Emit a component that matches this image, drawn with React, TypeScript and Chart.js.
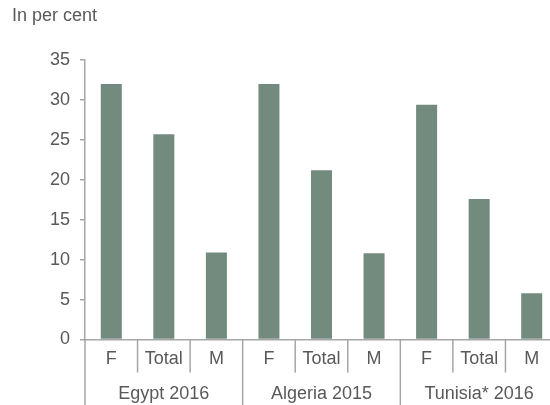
import React, { useEffect, useRef } from "react";
import { Chart, registerables } from "chart.js";

Chart.register(...registerables);

// Unemployment shares by sex, per country survey
const groups = ["Egypt 2016", "Algeria 2015", "Tunisia* 2016"];
const subLabels = ["F", "Total", "M"];
const femaleValues = [32.0, 32.0, 29.4];
const totalValues = [25.7, 21.2, 17.6];
const maleValues = [10.9, 10.8, 5.8];
const yTicks = [0, 5, 10, 15, 20, 25, 30, 35];

const FONT = '"Liberation Sans", Arial, Helvetica, sans-serif';
const FONT_SIZE = 18;
const TEXT = "#595959";
const AXIS = "#a6a6a6";
const BAR = "#738b7f";

const labels: string[] = [];
const values: number[] = [];
groups.forEach((_, g) => {
  const row = [femaleValues[g], totalValues[g], maleValues[g]];
  subLabels.forEach((s, k) => {
    labels.push(s);
    values.push(row[k]);
  });
});

// Draws the category separators, the country labels and the unit caption
const groupAxisPlugin = {
  id: "groupAxis",
  afterDraw(chart: any) {
    const ctx = chart.ctx;
    const xs = chart.scales.x;
    const area = chart.chartArea;
    const n = labels.length;
    ctx.save();
    ctx.strokeStyle = AXIS;
    ctx.lineWidth = 1.5;
    for (let i = 0; i <= n; i++) {
      let bx: number;
      if (i === 0) bx = xs.left;
      else if (i === n) bx = xs.right;
      else bx = (xs.getPixelForValue(i - 1) + xs.getPixelForValue(i)) / 2;
      const isGroup = i % subLabels.length === 0;
      ctx.beginPath();
      ctx.moveTo(bx, area.bottom);
      ctx.lineTo(bx, isGroup ? chart.height : area.bottom + 33);
      ctx.stroke();
    }
    ctx.fillStyle = TEXT;
    ctx.font = `${FONT_SIZE}px ${FONT}`;
    ctx.textAlign = "center";
    ctx.textBaseline = "middle";
    groups.forEach((g, gi) => {
      const cx = xs.getPixelForValue(gi * subLabels.length + 1);
      ctx.fillText(g, cx, area.bottom + 55);
    });
    ctx.textAlign = "left";
    ctx.textBaseline = "alphabetic";
    ctx.fillText("In per cent", 12, 21);
    ctx.restore();
  },
};

export default function App() {
  const ref = useRef<HTMLCanvasElement | null>(null);

  useEffect(() => {
    if (!ref.current) return;
    const chart = new Chart(ref.current, {
      type: "bar",
      data: {
        labels,
        datasets: [
          {
            data: values,
            backgroundColor: BAR,
            borderWidth: 0,
            barPercentage: 0.4,
            categoryPercentage: 1,
          },
        ],
      },
      options: {
        responsive: false,
        animation: false,
        layout: { padding: { top: 60, right: 0, bottom: 0, left: 0 } },
        plugins: {
          legend: { display: false },
          tooltip: { enabled: false },
          title: { display: false },
        },
        scales: {
          x: {
            type: "category",
            offset: true,
            grid: { display: true, drawOnChartArea: false, drawTicks: false, tickLength: 0, color: "rgba(0,0,0,0)" },
            border: { display: true, color: AXIS, width: 1.5 },
            ticks: {
              color: TEXT,
              font: { family: FONT, size: FONT_SIZE },
              padding: 9,
              maxRotation: 0,
              autoSkip: false,
            },
            afterFit(scale: any) {
              scale.height = 65.5;
            },
          },
          y: {
            min: 0,
            max: 35,
            afterBuildTicks(scale: any) {
              scale.ticks = yTicks.map((v) => ({ value: v }));
            },
            grid: { display: true, drawOnChartArea: false, drawTicks: true, tickLength: 5, color: AXIS, lineWidth: 1.5 },
            border: { display: true, color: AXIS, width: 1.5 },
            ticks: {
              color: TEXT,
              font: { family: FONT, size: FONT_SIZE },
              padding: 10,
            },
            afterFit(scale: any) {
              scale.width = 85;
            },
          },
        },
      },
      plugins: [groupAxisPlugin],
    });
    return () => chart.destroy();
  }, []);

  return (
    <div
      style={{
        position: "fixed",
        left: 0,
        top: 0,
        width: 550,
        height: 405,
        overflow: "hidden",
        background: "#ffffff",
      }}
    >
      <canvas ref={ref} width={558} height={405} style={{ width: 558, height: 405, display: "block" }} />
    </div>
  );
}
